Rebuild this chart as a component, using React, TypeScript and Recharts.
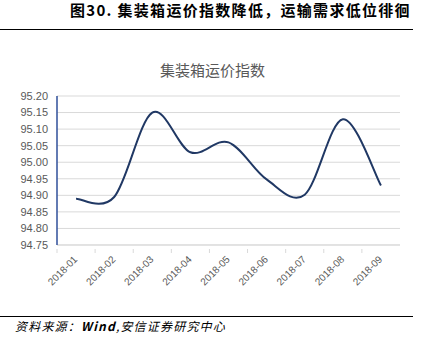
import { LineChart, Line, XAxis, YAxis, CartesianGrid } from "recharts";

const months = [
  "2018-01",
  "2018-02",
  "2018-03",
  "2018-04",
  "2018-05",
  "2018-06",
  "2018-07",
  "2018-08",
  "2018-09",
];
const indexValues = [94.89, 94.895, 95.15, 95.03, 95.06, 94.948, 94.902, 95.13, 94.93];
const yTicks = [94.75, 94.8, 94.85, 94.9, 94.95, 95.0, 95.05, 95.1, 95.15, 95.2];

const data = months.map((m, i) => ({ month: m, value: indexValues[i] }));

// Excel 风格的平滑曲线 (Catmull-Rom)
function smoothCurve(context: any) {
  let pts: [number, number][] = [];
  return {
    areaStart() {},
    areaEnd() {},
    lineStart() {
      pts = [];
    },
    point(x: number, y: number) {
      pts.push([+x, +y]);
    },
    lineEnd() {
      if (!pts.length) return;
      context.moveTo(pts[0][0], pts[0][1]);
      for (let i = 0; i < pts.length - 1; i++) {
        const p0 = pts[i - 1] || pts[i];
        const p1 = pts[i];
        const p2 = pts[i + 1];
        const p3 = pts[i + 2] || p2;
        const k = 1 / 6;
        context.bezierCurveTo(
          p1[0] + (p2[0] - p0[0]) * k,
          p1[1] + (p2[1] - p0[1]) * k,
          p2[0] - (p3[0] - p1[0]) * k,
          p2[1] - (p3[1] - p1[1]) * k,
          p2[0],
          p2[1]
        );
      }
    },
  };
}

const XTick = (props: any) => {
  const { x, y, payload } = props;
  const half = payload?.offset || 19;
  return (
    <g>
      <line x1={x - half} y1={y - 4} x2={x - half} y2={y} stroke="#d9d9d9" />
      <text
        x={x + 2}
        y={y + 7}
        transform={`rotate(-45, ${x + 2}, ${y + 7})`}
        textAnchor="end"
        fontSize={10}
        fontFamily="'Liberation Sans', Arial, sans-serif"
        fill="#595959"
      >
        {payload.value}
      </text>
    </g>
  );
};

export default function App() {
  return (
    <div
      style={{
        position: "absolute",
        left: 0,
        top: 0,
        width: 424,
        height: 353,
        background: "#fff",
        fontFamily: "'Noto Sans CJK SC', sans-serif",
        overflow: "hidden",
      }}
    >
      <div
        style={{
          position: "absolute",
          left: 70,
          top: 1,
          fontSize: 15,
          fontWeight: 700,
          letterSpacing: 1.3,
          lineHeight: "17px",
          color: "#000",
          whiteSpace: "nowrap",
        }}
      >
        图30. 集装箱运价指数降低，运输需求低位徘徊
      </div>
      <div
        style={{
          position: "absolute",
          left: 0,
          top: 29,
          width: 413,
          height: 0,
          borderTop: "1.5px solid #000",
        }}
      />
      <div
        style={{
          position: "absolute",
          left: 160,
          top: 60,
          fontSize: 15,
          color: "#595959",
          lineHeight: "20px",
          whiteSpace: "nowrap",
        }}
      >
        集装箱运价指数
      </div>
      <LineChart
        width={424}
        height={353}
        data={data}
        margin={{ top: 96, right: 24, bottom: 48, left: 0 }}
        style={{ position: "absolute", left: 0, top: 0 }}
      >
        <CartesianGrid horizontal vertical={false} stroke="#d9d9d9" />
        <XAxis
          dataKey="month"
          scale="band"
          height={60}
          interval={0}
          axisLine={{ stroke: "#d9d9d9" }}
          tickLine={false}
          tick={<XTick />}
        />
        <YAxis
          width={57}
          domain={[94.75, 95.2]}
          ticks={yTicks}
          interval={0}
          tickFormatter={(v) => Number(v).toFixed(2)}
          axisLine={{ stroke: "#2f4f9a", strokeWidth: 1.5 }}
          tickLine={false}
          tickMargin={3}
          tick={{ fontSize: 11, fill: "#595959", fontFamily: "'Liberation Sans', Arial, sans-serif" }}
        />
        <Line
          type={smoothCurve as any}
          dataKey="value"
          stroke="#203864"
          strokeWidth={2}
          dot={false}
          isAnimationActive={false}
        />
      </LineChart>
      <div
        style={{
          position: "absolute",
          left: 0,
          top: 316,
          width: 413,
          height: 0,
          borderTop: "1.5px solid #000",
        }}
      />
      <div
        style={{
          position: "absolute",
          left: 15,
          top: 318,
          fontSize: 12,
          fontStyle: "italic",
          letterSpacing: 1.2,
          lineHeight: "16px",
          color: "#000",
          whiteSpace: "nowrap",
        }}
      >
        资料来源：<span style={{ fontWeight: 600 }}>Wind</span>,安信证券研究中心
      </div>
    </div>
  );
}
